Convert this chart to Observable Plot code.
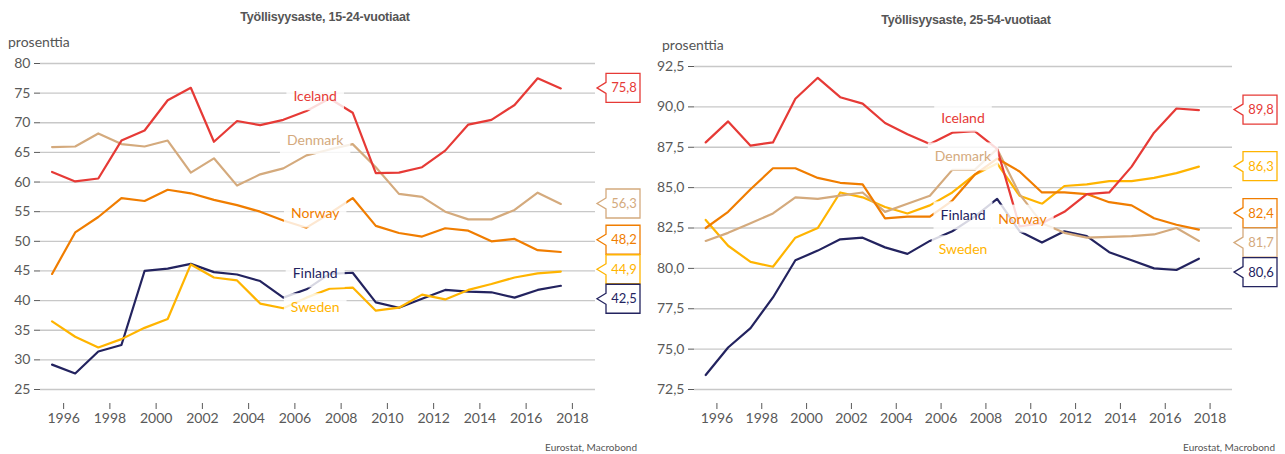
<!DOCTYPE html>
<html><head><meta charset="utf-8">
<script src="https://cdn.jsdelivr.net/npm/d3@7"></script>
<script src="https://cdn.jsdelivr.net/npm/@observablehq/plot@0.6"></script>
<style>
body{margin:0;background:#fff;}
#wrap{position:relative;width:1285px;height:454px;overflow:hidden;background:#fff;}
.panel{position:absolute;top:0;}
.title{position:absolute;font:bold 12.5px "Liberation Sans",Arial,sans-serif;line-height:13px;color:#555;transform:translateX(-50%);white-space:nowrap;letter-spacing:-0.2px;}
.unit{position:absolute;font:14px Lato,sans-serif;line-height:14px;color:#555;white-space:nowrap;}
.src{position:absolute;font:10px Lato,sans-serif;line-height:10px;color:#555;white-space:nowrap;}
</style></head><body>
<div id="wrap">
  <div class="title" style="left:325px;top:11px">Työllisyysaste, 15-24-vuotiaat</div>
  <div class="title" style="left:966px;top:14px">Työllisyysaste, 25-54-vuotiaat</div>
  <div class="unit" style="left:8px;top:35px">prosenttia</div>
  <div class="unit" style="left:662px;top:38px">prosenttia</div>
  <div class="src" style="right:648px;top:442px">Eurostat, Macrobond</div>
  <div class="src" style="right:10px;top:442px">Eurostat, Macrobond</div>
</div>
<script>
// ---- data ----
const years = [1995,1996,1997,1998,1999,2000,2001,2002,2003,2004,2005,2006,2007,2008,2009,2010,2011,2012,2013,2014,2015,2016,2017];
const countries = ["Finland","Sweden","Denmark","Norway","Iceland"];
const colors = ["#23235f","#ffb400","#d4aa7d","#f07d00","#e63a36"];
const xTicks = [1996,1998,2000,2002,2004,2006,2008,2010,2012,2014,2016,2018];

// 15-24-vuotiaat
const youngIceland = [61.7,60.1,60.6,67.0,68.7,73.8,75.9,66.8,70.3,69.6,70.5,72.0,74.1,71.7,61.5,61.6,62.5,65.3,69.7,70.5,73.0,77.5,75.8];
const youngDenmark = [65.9,66.0,68.2,66.4,66.0,67.0,61.6,64.0,59.4,61.3,62.3,64.5,65.5,66.4,62.5,58.0,57.5,55.0,53.7,53.7,55.3,58.2,56.3];
const youngNorway  = [44.5,51.5,54.1,57.3,56.8,58.7,58.1,57.0,56.1,55.0,53.5,52.3,54.7,57.3,52.6,51.4,50.8,52.2,51.8,50.0,50.4,48.5,48.2];
const youngFinland = [29.2,27.7,31.4,32.5,45.0,45.4,46.2,44.8,44.4,43.3,40.5,41.9,44.5,44.7,39.7,38.8,40.3,41.8,41.5,41.4,40.5,41.8,42.5];
const youngSweden  = [36.5,33.9,32.1,33.5,35.4,36.9,46.1,43.9,43.4,39.5,38.7,40.5,42.0,42.2,38.3,38.8,41.0,40.2,41.8,42.8,43.9,44.6,44.9];
const youngTicks = [25,30,35,40,45,50,55,60,65,70,75,80];
const youngLabelYear = [2006.9,2006.9,2006.9,2006.9,2006.9];          // Finland, Sweden, Denmark, Norway, Iceland
const youngLabelValue = [44.5,38.8,67.0,54.6,74.4];

// 25-54-vuotiaat
const primeIceland = [87.8,89.1,87.6,87.8,90.5,91.8,90.6,90.2,89.0,88.3,87.7,88.4,88.5,87.4,82.6,82.8,83.5,84.6,84.7,86.3,88.4,89.9,89.8];
const primeDenmark = [81.7,82.2,82.8,83.4,84.4,84.3,84.5,84.7,83.5,84.0,84.5,86.1,86.1,87.4,84.6,82.8,82.2,81.9,81.95,82.0,82.1,82.5,81.7];
const primeNorway  = [82.5,83.5,84.9,86.2,86.2,85.6,85.3,85.2,83.1,83.2,83.2,84.2,85.8,86.8,86.0,84.7,84.7,84.6,84.1,83.9,83.1,82.7,82.4];
const primeSweden  = [83.0,81.4,80.4,80.1,81.9,82.5,84.7,84.4,83.8,83.4,83.9,84.7,85.8,86.5,84.5,84.0,85.1,85.2,85.4,85.4,85.6,85.9,86.3];
const primeFinland = [73.4,75.1,76.3,78.2,80.5,81.1,81.8,81.9,81.3,80.9,81.7,82.3,83.2,84.3,82.3,81.6,82.3,82.0,81.0,80.5,80.0,79.9,80.6];
const primeTicks = [72.5,75,77.5,80,82.5,85,87.5,90,92.5];
const primeLabelYear = [2007.0,2007.0,2007.0,2009.65,2007.0];
const primeLabelValue = [83.25,81.15,86.9,83.05,89.3];

// ---- helpers ----
const fmt1 = v => v.toFixed(1).replace(".", ",");
const ctx = document.createElement("canvas").getContext("2d");
function textWidth(s, font){ ctx.font = font; return ctx.measureText(s).width; }

function dodge(ps, H){
  ps.sort((a,b)=>a.py-b.py);
  let groups = ps.map(p=>({items:[p], c:p.py}));
  let changed = true;
  while(changed){
    changed = false;
    for(let k=0;k<groups.length-1;k++){
      const a=groups[k], b=groups[k+1];
      const aBot = a.c + (a.items.length-1)*H/2;
      const bTop = b.c - (b.items.length-1)*H/2;
      if(bTop - aBot < H){
        const items = a.items.concat(b.items);
        groups.splice(k,2,{items, c:d3.mean(items,p=>p.py)});
        changed = true; break;
      }
    }
  }
  groups.forEach(g=>g.items.forEach((p,k)=>p.ly = g.c - (g.items.length-1)*H/2 + k*H));
}

function callouts(items){
  return (index, scales, values, dims) => {
    const g = d3.create("svg:g");
    const x0 = dims.width - dims.marginRight + 2, x1 = x0 + 9, x2 = x1 + 34, h = 29;
    const ps = items.map(d=>({...d, py: scales.y(d.value)}));
    dodge(ps, 29.5);
    for(const p of ps){
      const y = p.ly;
      g.append("path")
        .attr("d", `M${x1},${y-5.5}L${x0},${y}L${x1},${y+5.5}L${x1},${y+h/2}L${x2},${y+h/2}L${x2},${y-h/2}L${x1},${y-h/2}Z`)
        .attr("fill","white").attr("stroke", p.color).attr("stroke-width",1.3);
      g.append("text").attr("x",(x1+x2)/2+1).attr("y",y).attr("dy","0.35em")
        .attr("text-anchor","middle").attr("fill",p.color)
        .attr("font-size",13).attr("font-family","Lato, sans-serif").text(fmt1(p.value));
    }
    return g.node();
  };
}

function seriesLabels(items){
  return (index, scales) => {
    const g = d3.create("svg:g");
    for(const d of items){
      const cx = scales.x(d.year), cy = scales.y(d.value);
      const w = textWidth(d.name, "14px Lato") + 14, h = 28;
      g.append("rect").attr("x",cx-w/2).attr("y",cy-h/2).attr("width",w).attr("height",h)
        .attr("fill","white").attr("fill-opacity",0.82);
    }
    for(const d of items){
      g.append("text").attr("x",scales.x(d.year)).attr("y",scales.y(d.value)).attr("dy","0.35em")
        .attr("text-anchor","middle").attr("fill",d.color)
        .attr("font-size",14).attr("font-family","Lato, sans-serif").text(d.name);
    }
    return g.node();
  };
}

function panel({left, width, mL, mR, yTop, yDomain, yTicks, yFmt, series, labelYear, labelValue}){
  const rows = [];
  countries.forEach((c,ci)=>series[ci].forEach((v,i)=>rows.push({country:c, t:years[i]+0.5, v})));
  const lastItems = countries.map((c,ci)=>({name:c, color:colors[ci], value:series[ci][series[ci].length-1]}));
  const labelItems = countries.map((c,ci)=>({name:c, color:colors[ci], year:labelYear[ci], value:labelValue[ci]}));
  const plot = Plot.plot({
    width, height: 454,
    marginLeft: mL, marginRight: mR, marginTop: yTop, marginBottom: 51,
    style: {fontFamily: "Lato, sans-serif", fontSize: "14px", color: "#595959", background: "transparent"},
    x: {domain:[1995,2019], ticks: xTicks, tickFormat: d=>String(d), tickSize: 6, tickPadding: 4, label: null},
    y: {domain: yDomain, range: [389, yTop], ticks: yTicks, tickFormat: yFmt, tickSize: 6, tickPadding: 4, label: null},
    color: {domain: countries, range: colors},
    marks: [
      Plot.ruleY(yTicks, {stroke: "#c8c8c8", strokeWidth: 1.3}),
      Plot.line(rows, {x:"t", y:"v", z:"country", stroke:"country", strokeWidth: 2.2}),
      seriesLabels(labelItems),
      callouts(lastItems)
    ]
  });
  plot.classList.add("panel");
  plot.style.left = left + "px";
  document.getElementById("wrap").appendChild(plot);
}

panel({left:0, width:642, mL:40, mR:47, yTop:63, yDomain:[25,80], yTicks:youngTicks, yFmt:d=>String(d),
  series:[youngFinland, youngSweden, youngDenmark, youngNorway, youngIceland],
  labelYear: youngLabelYear, labelValue: youngLabelValue});
panel({left:643, width:642, mL:51, mR:53, yTop:66, yDomain:[72.5,92.5], yTicks:primeTicks, yFmt:fmt1,
  series:[primeFinland, primeSweden, primeDenmark, primeNorway, primeIceland],
  labelYear: primeLabelYear, labelValue: primeLabelValue});
</script>
</body></html>
